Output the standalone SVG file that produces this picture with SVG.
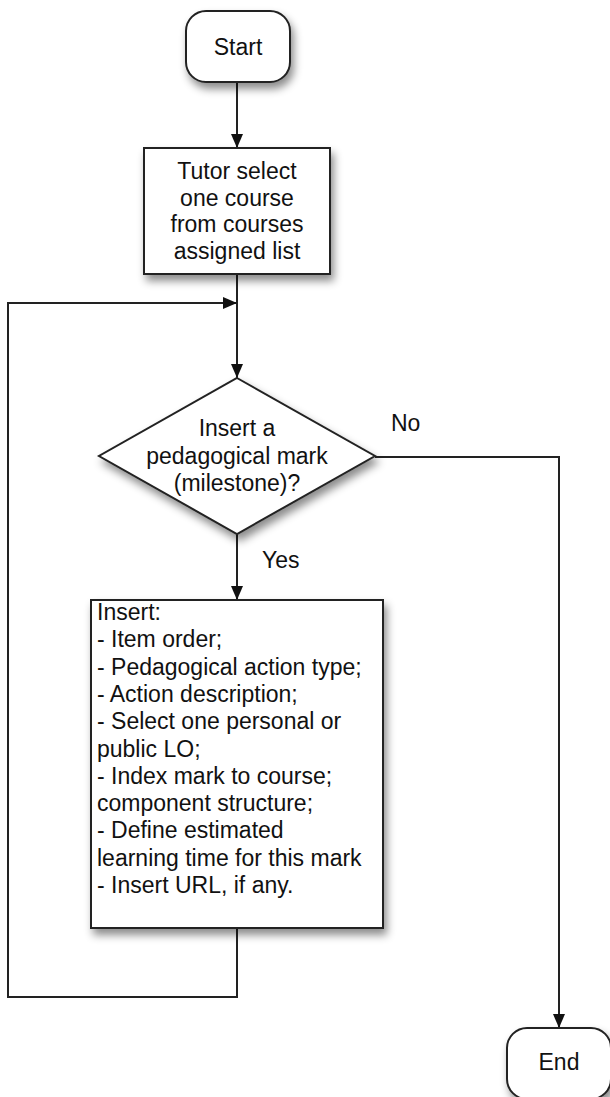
<svg xmlns="http://www.w3.org/2000/svg" width="610" height="1097" viewBox="0 0 610 1097">
<style>
  .shape { fill: #ffffff; stroke: #222222; stroke-width: 2; filter: url(#shadow); }
  .conn { fill: none; stroke: #222222; stroke-width: 2; }
  .t { font-family: "Liberation Sans", Arial, Helvetica, sans-serif; font-size: 23px; fill: #111111; }
  .c { text-anchor: middle; }
</style>
<defs>
  <filter id="shadow" x="-20%" y="-20%" width="150%" height="150%">
    <feDropShadow dx="3" dy="6" stdDeviation="4" flood-color="#000000" flood-opacity="0.45"/>
  </filter>
  <marker id="arrow" markerUnits="userSpaceOnUse" markerWidth="14" markerHeight="12" refX="14" refY="6" orient="auto">
    <path d="M0,0 L14,6 L0,12 z" fill="#111111"/>
  </marker>
</defs>
<rect width="610" height="1097" fill="#ffffff"/>

<g id="connectors">
  <path class="conn" d="M237 82 V148" marker-end="url(#arrow)"/>
  <path class="conn" d="M237 274 V378" marker-end="url(#arrow)"/>
  <path class="conn" d="M237 534 V600" marker-end="url(#arrow)"/>
  <path class="conn" d="M375 457 H559 V1028" marker-end="url(#arrow)"/>
  <path class="conn" d="M237 928 V997 H8 V303 H237" marker-end="url(#arrow)"/>
  <text class="t" x="391" y="431">No</text>
  <text class="t" x="262" y="568">Yes</text>
</g>

<g id="start">
  <rect class="shape" x="186" y="11" width="104" height="71" rx="20" ry="20"/>
  <text class="t c" x="238" y="55">Start</text>
</g>

<g id="select-course">
  <rect class="shape" x="144" y="148" width="186" height="126"/>
  <text class="t c" x="237" y="179">Tutor select</text>
  <text class="t c" x="237" y="205.5">one course</text>
  <text class="t c" x="237" y="232">from courses</text>
  <text class="t c" x="237" y="258.5">assigned list</text>
</g>

<g id="decision">
  <polygon class="shape" points="237,378 375,456 237,534 99,456"/>
  <text class="t c" x="237" y="436">Insert a</text>
  <text class="t c" x="237" y="463.5">pedagogical mark</text>
  <text class="t c" x="237" y="491">(milestone)?</text>
</g>

<g id="insert">
  <rect class="shape" x="91" y="600" width="292" height="328"/>
  <text class="t" x="97" y="620">Insert:</text>
  <text class="t" x="97" y="647.3">- Item order;</text>
  <text class="t" x="97" y="674.6">- Pedagogical action type;</text>
  <text class="t" x="97" y="701.9">- Action description;</text>
  <text class="t" x="97" y="729.2">- Select one personal or</text>
  <text class="t" x="97" y="756.5">public LO;</text>
  <text class="t" x="97" y="783.8">- Index mark to course;</text>
  <text class="t" x="97" y="811.1">component structure;</text>
  <text class="t" x="97" y="838.4">- Define estimated</text>
  <text class="t" x="97" y="865.7">learning time for this mark</text>
  <text class="t" x="97" y="893">- Insert URL, if any.</text>
</g>

<g id="end">
  <rect class="shape" x="507" y="1028" width="104" height="71" rx="20" ry="20"/>
  <text class="t c" x="559" y="1070">End</text>
</g>
</svg>
